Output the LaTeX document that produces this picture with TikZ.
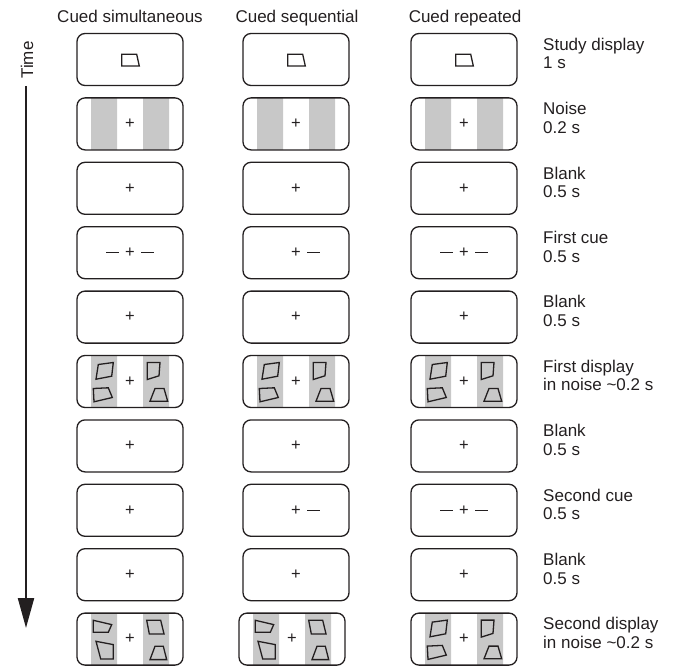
\documentclass[tikz,border=0pt]{standalone}
\usepackage{fontspec}
\setmainfont{Liberation Sans}
\usetikzlibrary{arrows.meta}
\definecolor{ink}{HTML}{231F20}
\definecolor{noisegray}{HTML}{C8C8C8}
\begin{document}
\begin{tikzpicture}[x=1pt,y=-1pt,
  trial/.style={draw=ink, line width=1.3pt, rounded corners=8pt,
    minimum width=106pt, minimum height=52pt, inner sep=0pt},
  lbl/.style={font=\fontsize{17}{18.5}\selectfont, text=ink, align=left,
    anchor=north west, inner sep=0pt},
  hdr/.style={font=\fontsize{17}{19}\selectfont, text=ink, anchor=base, inner sep=0pt},
  fix/.style={font=\fontsize{16.5}{16.5}\selectfont, text=ink, inner sep=0pt},
  cueline/.style={draw=ink, line width=1.4pt},
  quad/.style={draw=ink, line width=1.3pt, line join=miter},
  studyfig/.pic={\draw[quad] (-8.3,-5.2) -- (6.7,-5.2) -- (9.3,6.5) -- (-8.3,6.5) -- cycle;},
  bars/.pic={\fill[noisegray] (-39,-26) rectangle (-13,26) (13,-26) rectangle (39,26);},
  dispA/.pic={\draw[quad]
     (-31.7,-17) -- (-16.7,-19) -- (-18.3,-5.3) -- (-34,-2.3) -- cycle
     (-36.7,7) -- (-21.7,6.3) -- (-17.7,16) -- (-36,20.3) -- cycle
     (17.3,-19) -- (30,-19) -- (29,-5.7) -- (17.3,-2) -- cycle
     (25,7) -- (34,7) -- (37.7,19.7) -- (20,19.7) -- cycle;},
  dispB/.pic={\draw[quad]
     (-36.7,-18.8) -- (-18.3,-14.5) -- (-21.7,-6.8) -- (-36.7,-6.8) -- cycle
     (-34,2.2) -- (-16.7,5.5) -- (-16.7,19.8) -- (-29.3,19.8) -- cycle
     (16.7,-18.8) -- (30.7,-18.8) -- (34,-5.2) -- (19.3,-5.2) -- cycle
     (25,7.2) -- (33.3,7.2) -- (36.7,20.5) -- (20,20.5) -- cycle;},
  cueR/.pic={\draw[cueline] (11,0) -- (24,0);},
  cueL/.pic={\draw[cueline] (-24,0) -- (-11,0);}
]
\useasboundingbox (0,0) rectangle (674,666);

% positions
\foreach \r in {0,...,9}{
  \pgfmathsetmacro\yy{59.5+64.4*\r}
  \foreach \c/\xx in {1/130,2/296,3/464}{
    \coordinate (c\r-\c) at (\xx,\yy);
  }
}
\coordinate (c9-2) at (292,639.1);

% noise bars (under the frames)
\foreach \c in {1,2,3}{
  \pic at (c1-\c) {bars};
  \pic at (c5-\c) {bars};
  \pic at (c9-\c) {bars};
}

% frames
\foreach \r in {0,...,9}{
  \foreach \c in {1,2,3}{
    \node[trial] (b\r-\c) at (c\r-\c) {};
  }
}

% fixation crosses
\foreach \r in {1,...,9}{
  \foreach \c in {1,2,3}{
    \node[fix] (p\r-\c) at (b\r-\c.center) {+};
  }
}

% study shapes
\foreach \c in {1,2,3}{ \pic at (b0-\c.center) {studyfig}; }

% displays
\foreach \c in {1,2,3}{ \pic at (b5-\c.center) {dispA}; }
\pic at (b9-1.center) {dispB};
\pic at (b9-2.center) {dispB};
\pic at (b9-3.center) {dispA};

% cues
\pic at (b3-1.center) {cueL}; \pic at (b3-1.center) {cueR};
\pic at (b3-2.center) {cueR};
\pic at (b3-3.center) {cueL}; \pic at (b3-3.center) {cueR};
\pic at (b7-2.center) {cueR};
\pic at (b7-3.center) {cueL}; \pic at (b7-3.center) {cueR};

% headers
\node[hdr] (h1) at (130,22.5) {Cued simultaneous};
\node[hdr] (h2) at (297,22.5) {Cued sequential};
\node[hdr] (h3) at (465,22.5) {Cued repeated};

% right labels
\foreach \r/\txt in {0/{Study display\\1 s},1/{Noise\\0.2 s},2/{Blank\\0.5 s},
   3/{First cue\\0.5 s},4/{Blank\\0.5 s},5/{First display\\in noise \textasciitilde0.2 s},
   6/{Blank\\0.5 s},7/{Second cue\\0.5 s},8/{Blank\\0.5 s},
   9/{Second display\\in noise \textasciitilde0.2 s}}{
  \pgfmathsetmacro\ly{59.5+64.4*\r-21.7}
  \node[lbl] (l\r) at (543,\ly) {\txt};
}

% time axis
\node[font=\fontsize{17}{19}\selectfont, text=ink, rotate=90, anchor=base, inner sep=0pt]
  (time) at (33,60) {Time};
\coordinate (tstart) at (26,86);
\coordinate (tend) at (26,628);
\draw[ink, line width=2.2pt, -{Triangle[width=16pt,length=30pt]}] (tstart) -- (tend);
\end{tikzpicture}
\end{document}
